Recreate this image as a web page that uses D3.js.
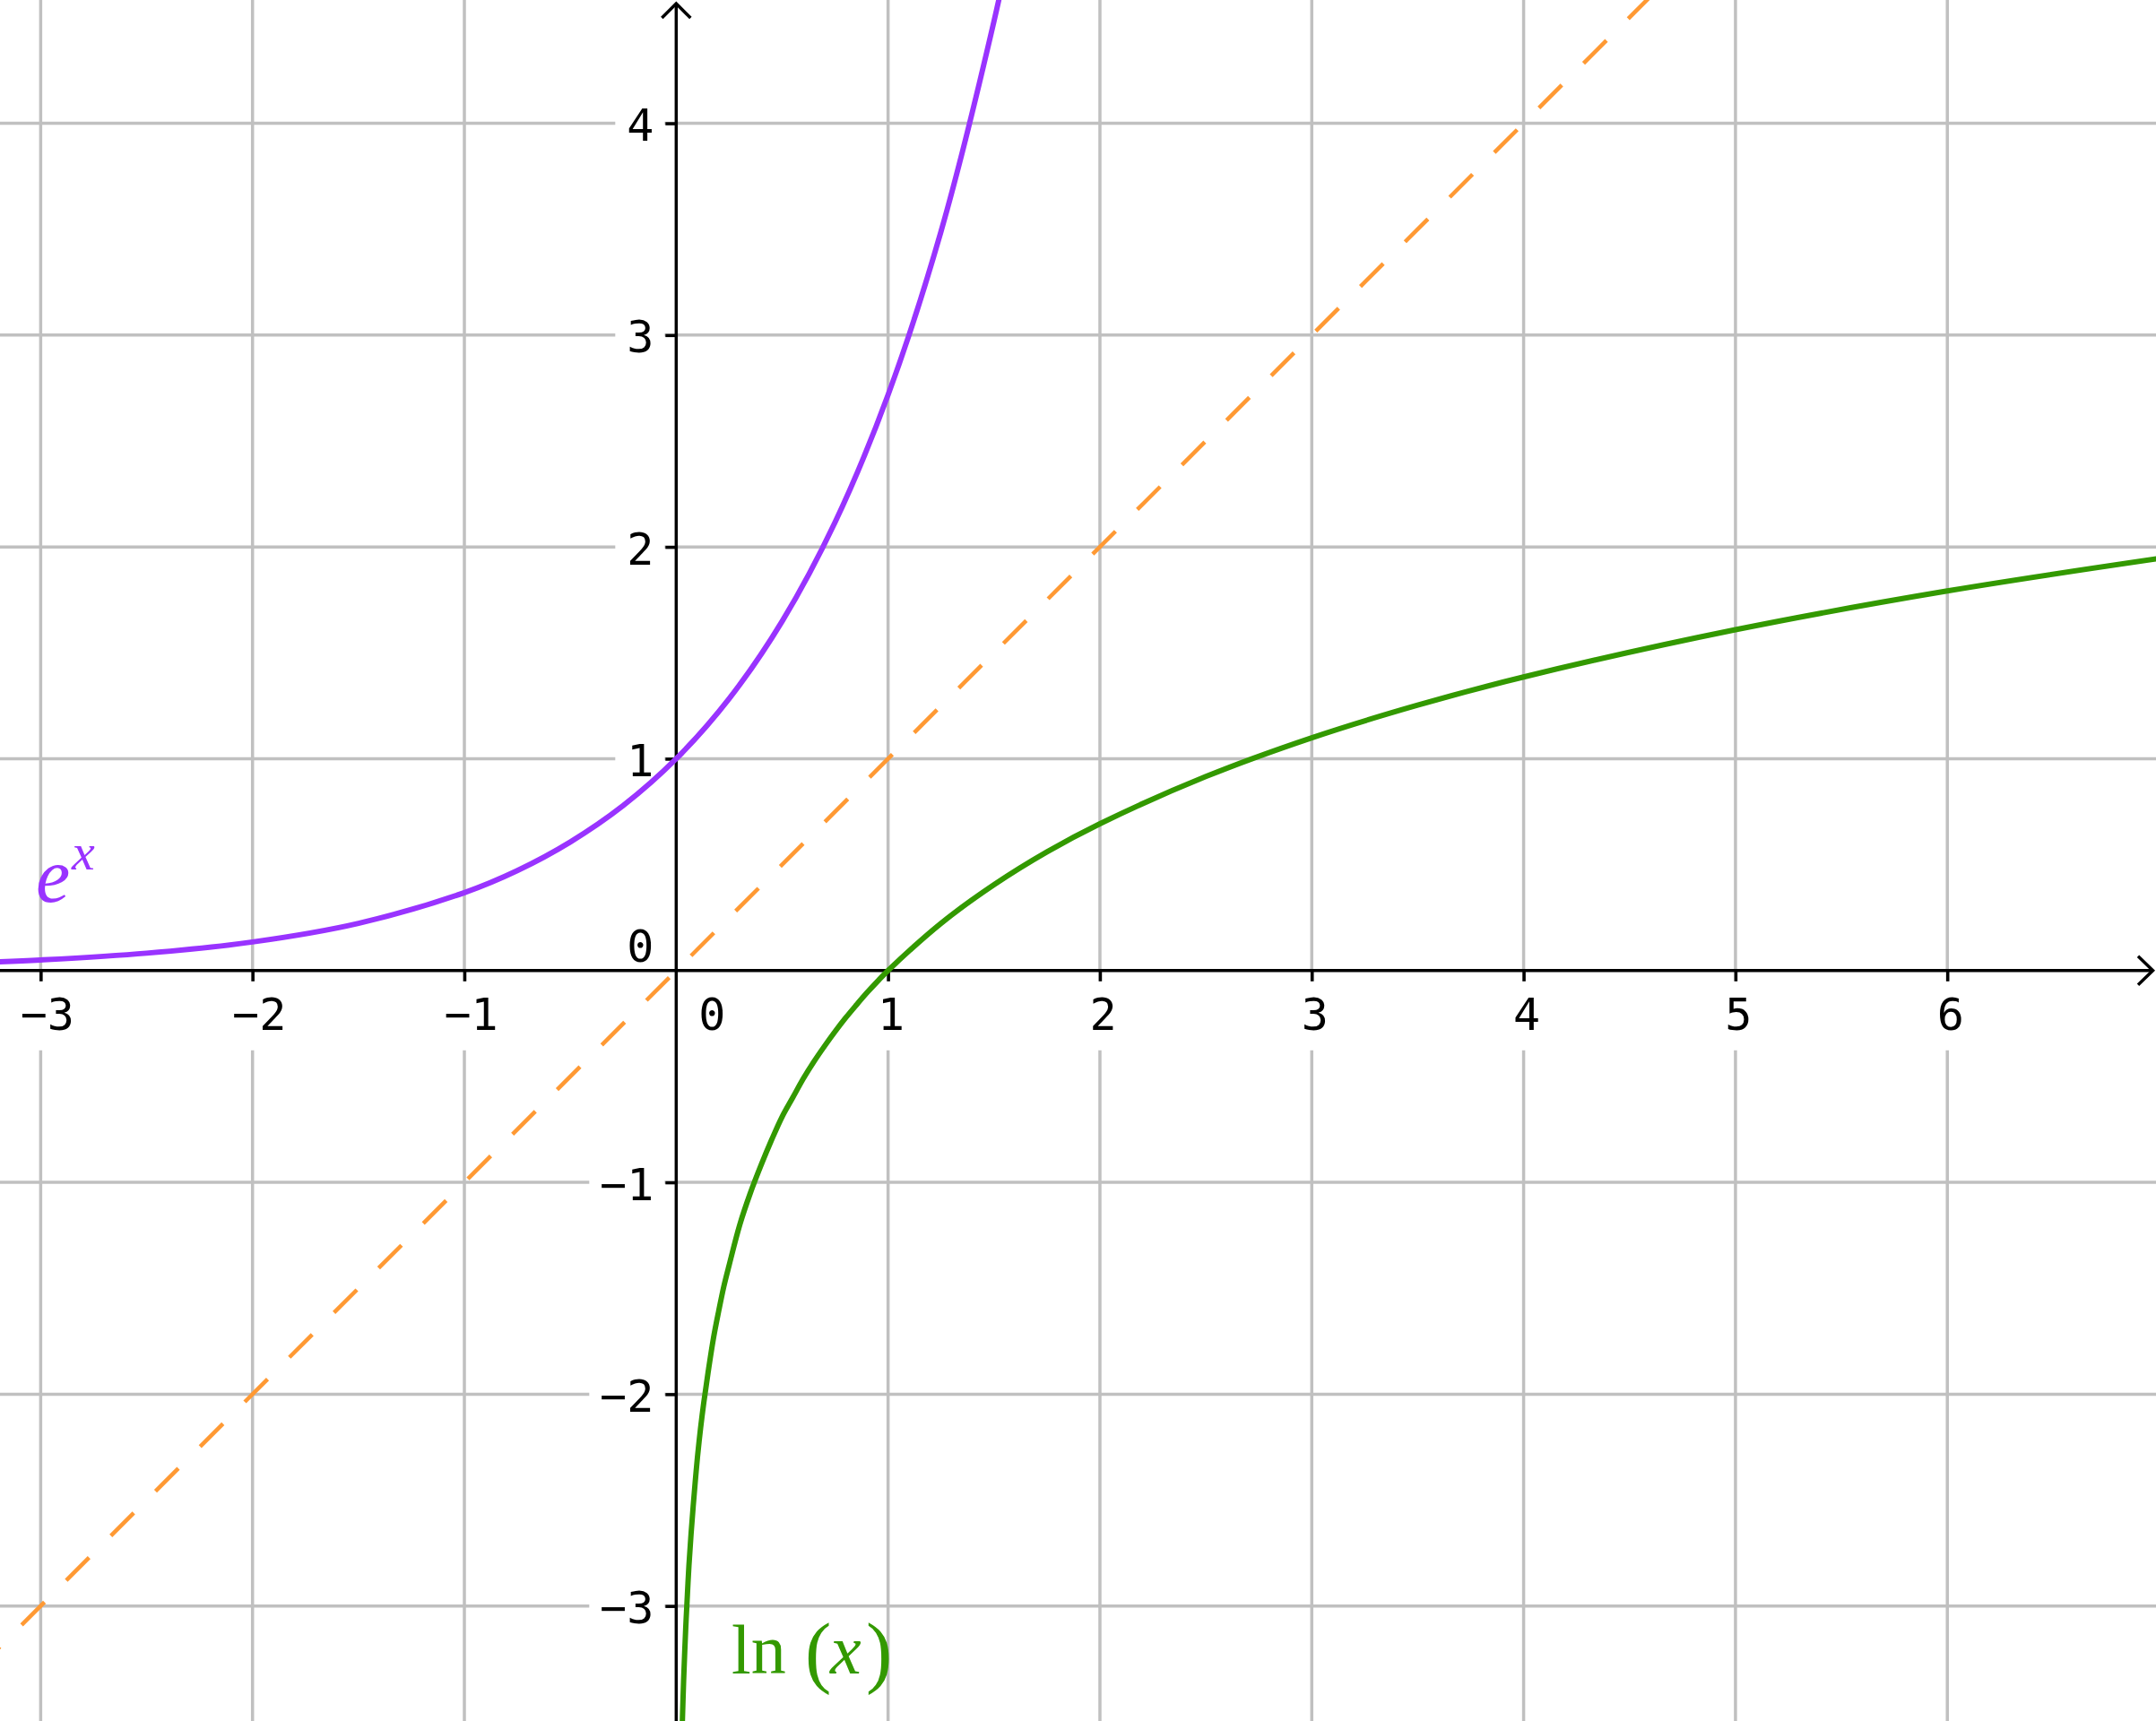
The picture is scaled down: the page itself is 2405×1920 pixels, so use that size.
<!DOCTYPE html>
<html>
<head>
<meta charset="utf-8">
<script src="https://cdn.jsdelivr.net/npm/d3@7"></script>
<style>
  html, body { margin: 0; padding: 0; background: #fff; }
  svg { display: block; }
</style>
</head>
<body>
<div id="container"></div>
<script>
const width = 2405;
const height = 1920;

// view window
const xDomain = [-3.192, 6.985];
const yDomain = [-3.543, 4.582];

// tick labels
const xTicks = [-3, -2, -1, 1, 2, 3, 4, 5, 6];
const yTicks = [-3, -2, -1, 1, 2, 3, 4];

// points (e^x)
const expX = [-3.25, -3, -2.5, -2, -1.5, -1, -0.75, -0.5, -0.25, 0, 0.25, 0.5, 0.75, 1, 1.25, 1.5, 1.6];
const expY = [0.039, 0.05, 0.082, 0.135, 0.223, 0.368, 0.472, 0.607, 0.779, 1, 1.284, 1.649, 2.117, 2.718, 3.49, 4.482, 4.953];

// points (ln x)
const lnX = [0.022, 0.026, 0.03, 0.035, 0.04, 0.045, 0.05, 0.06, 0.07, 0.08, 0.09, 0.1, 0.115, 0.13, 0.15, 0.175, 0.2, 0.225, 0.25, 0.3, 0.35, 0.4, 0.45, 0.5, 0.55, 0.6, 0.65, 0.7, 0.75, 0.8, 0.85, 0.9, 0.95, 1, 1.25, 1.5, 1.75, 2, 2.5, 3, 3.5, 4, 5, 6, 7.1];
const lnY = [-3.82, -3.65, -3.51, -3.35, -3.22, -3.1, -3.0, -2.81, -2.66, -2.53, -2.41, -2.3, -2.16, -2.04, -1.9, -1.74, -1.61, -1.49, -1.39, -1.2, -1.05, -0.92, -0.8, -0.69, -0.6, -0.51, -0.43, -0.357, -0.288, -0.223, -0.163, -0.105, -0.051, 0, 0.223, 0.405, 0.56, 0.693, 0.916, 1.099, 1.253, 1.386, 1.609, 1.792, 1.96];

// the dashed orange line y = x
const idX = [-3.6, 5];
const idY = [-3.6, 5];

const x = d3.scaleLinear().domain(xDomain).range([0, width]);
const y = d3.scaleLinear().domain(yDomain).range([height, 0]);

const svg = d3.select("#container")
  .append("svg")
  .attr("width", width)
  .attr("height", height);

const gridColor = "#c0c0c0";
const x0 = x(0), y0 = y(0);

// grid lines
svg.append("g")
  .selectAll("line")
  .data(xTicks)
  .join("line")
  .attr("x1", d => x(d)).attr("x2", d => x(d))
  .attr("y1", 0).attr("y2", height)
  .attr("stroke", gridColor)
  .attr("stroke-width", 3.5);

svg.append("g")
  .selectAll("line")
  .data(yTicks)
  .join("line")
  .attr("x1", 0).attr("x2", width)
  .attr("y1", d => y(d)).attr("y2", d => y(d))
  .attr("stroke", gridColor)
  .attr("stroke-width", 3.5);

const fmt = d3.format("d");

// white boxes behind the axis labels
svg.append("g")
  .selectAll("rect")
  .data(xTicks)
  .join("rect")
  .attr("x", d => x(d) - 40)
  .attr("y", y0 + 12)
  .attr("width", 80)
  .attr("height", 77)
  .attr("fill", "#fff");

svg.append("g")
  .selectAll("rect")
  .data(yTicks)
  .join("rect")
  .attr("x", d => x0 - 27 - fmt(d).length * 29 - 12)
  .attr("y", d => y(d) - 24)
  .attr("width", d => fmt(d).length * 29 + 26)
  .attr("height", 48)
  .attr("fill", "#fff");

// axes: ticks and labels
const labelFont = "'DejaVu Sans Mono', 'Liberation Mono', monospace";

const xAxis = svg.append("g")
  .attr("transform", `translate(0,${y0})`)
  .call(d3.axisBottom(x).tickValues(xTicks).tickSize(12).tickFormat(fmt));
xAxis.select(".domain").remove();
xAxis.selectAll(".tick line").attr("stroke", "#000").attr("stroke-width", 3.5);
xAxis.selectAll(".tick text")
  .attr("y", 66)
  .attr("dy", null)
  .attr("dx", d => d < 0 ? 7 : 3)
  .attr("fill", "#000")
  .style("font-family", labelFont)
  .style("font-size", "50px");

const yAxis = svg.append("g")
  .attr("transform", `translate(${x0},0)`)
  .call(d3.axisLeft(y).tickValues(yTicks).tickSize(12).tickFormat(fmt));
yAxis.select(".domain").remove();
yAxis.selectAll(".tick line").attr("stroke", "#000").attr("stroke-width", 3.5);
yAxis.selectAll(".tick text")
  .attr("x", -25)
  .attr("dy", 19)
  .attr("fill", "#000")
  .style("font-family", labelFont)
  .style("font-size", "50px");

// origin labels
svg.append("text")
  .attr("x", x0 - 25).attr("y", y0 - 10)
  .attr("text-anchor", "end")
  .style("font-family", labelFont).style("font-size", "50px")
  .text("0");
svg.append("text")
  .attr("x", x0 + 40).attr("y", y0 + 66)
  .attr("text-anchor", "middle")
  .style("font-family", labelFont).style("font-size", "50px")
  .text("0");

// axis lines with open arrow heads
svg.append("line")
  .attr("x1", 0).attr("x2", width - 3)
  .attr("y1", y0).attr("y2", y0)
  .attr("stroke", "#000").attr("stroke-width", 3.5);
svg.append("line")
  .attr("x1", x0).attr("x2", x0)
  .attr("y1", 4).attr("y2", height)
  .attr("stroke", "#000").attr("stroke-width", 3.5);
svg.append("path")
  .attr("d", `M${width - 20},${y0 - 16}L${width - 3.5},${y0}L${width - 20},${y0 + 16}`)
  .attr("fill", "none").attr("stroke", "#000").attr("stroke-width", 3.5)
  .attr("stroke-linejoin", "miter");
svg.append("path")
  .attr("d", `M${x0 - 16},${20}L${x0},${4}L${x0 + 16},${20}`)
  .attr("fill", "none").attr("stroke", "#000").attr("stroke-width", 3.5)
  .attr("stroke-linejoin", "miter");

// curves
const plot = svg.append("g");
const line = d3.line()
  .x(d => x(d[0]))
  .y(d => y(d[1]))
  .curve(d3.curveCatmullRom.alpha(0.5));

// dashed y = x, phase chosen so a dash ends at the origin
const dash = 36, gap = 34.4;
const startLen = Math.hypot(x(0) - x(idX[0]), y(0) - y(idY[0]));
const offset = dash - (startLen % (dash + gap));
plot.append("path")
  .datum(d3.zip(idX, idY))
  .attr("d", d3.line().x(d => x(d[0])).y(d => y(d[1])))
  .attr("fill", "none")
  .attr("stroke", "#ff9933")
  .attr("stroke-width", 4.5)
  .attr("stroke-dasharray", `${dash},${gap}`)
  .attr("stroke-dashoffset", -offset);

plot.append("path")
  .datum(d3.zip(lnX, lnY))
  .attr("d", line)
  .attr("fill", "none")
  .attr("stroke", "#339900")
  .attr("stroke-width", 6);

plot.append("path")
  .datum(d3.zip(expX, expY))
  .attr("d", line)
  .attr("fill", "none")
  .attr("stroke", "#9933ff")
  .attr("stroke-width", 6);

// curve captions
const mathFont = "'Liberation Serif', 'DejaVu Serif', serif";
const ex = svg.append("text")
  .attr("fill", "#9933ff")
  .style("font-family", mathFont);
ex.append("tspan")
  .attr("x", 40).attr("y", 1006)
  .style("font-style", "italic").style("font-size", "86px")
  .text("e");
ex.append("tspan")
  .attr("x", 80).attr("y", 970)
  .style("font-style", "italic").style("font-size", "58px")
  .text("x");

const ln = svg.append("text")
  .attr("fill", "#339900")
  .style("font-family", mathFont);
ln.append("tspan").attr("x", 816).attr("y", 1867).style("font-size", "78px").text("ln");
ln.append("tspan").attr("x", 898).attr("y", 1872).style("font-size", "88px").text("(");
ln.append("tspan").attr("x", 926).attr("y", 1867).style("font-size", "78px").style("font-style", "italic").text("x");
ln.append("tspan").attr("x", 966).attr("y", 1872).style("font-size", "88px").text(")");
</script>
</body>
</html>
